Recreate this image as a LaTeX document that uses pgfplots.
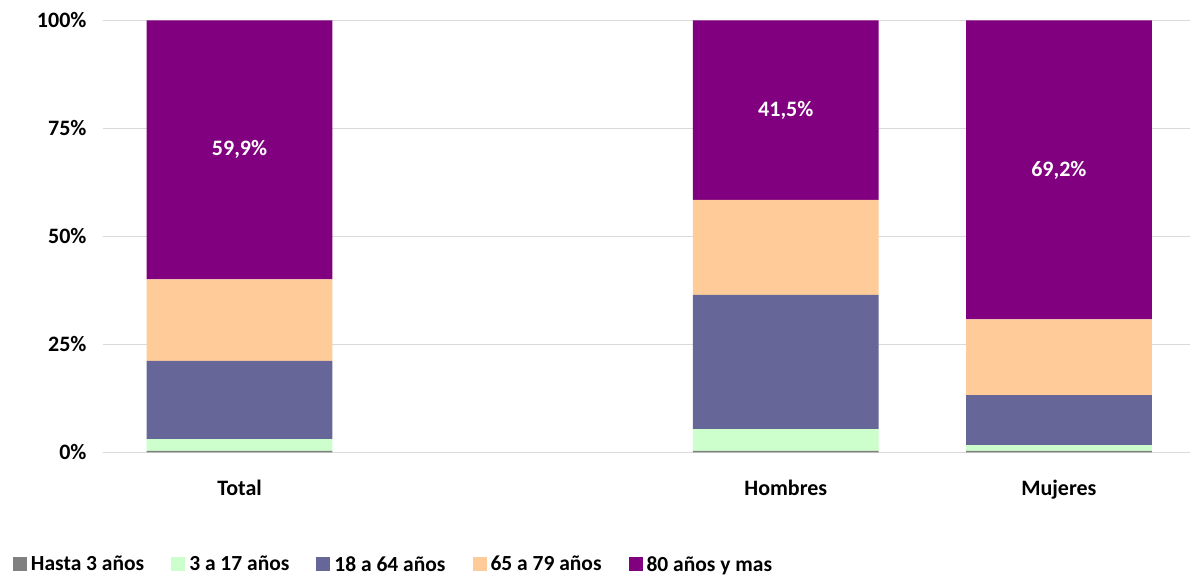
\documentclass[border=0pt]{standalone}
\usepackage{pgfplots}
\pgfplotsset{compat=1.18}
\usepackage{fontspec}
\setmainfont{Carlito}
\definecolor{cgrey}{HTML}{808080}
\definecolor{cgreen}{HTML}{CCFFCC}
\definecolor{cblue}{HTML}{666699}
\definecolor{corange}{HTML}{FFCC99}
\definecolor{cpurple}{HTML}{800080}
\definecolor{cgrid}{HTML}{D9D9D9}
\begin{document}
\begin{tikzpicture}
\useasboundingbox (-103pt,-124.5pt) rectangle (1087pt,452.5pt);
\begin{axis}[
  at={(0pt,0pt)}, anchor=south west,
  scale only axis, width=1087pt, height=432pt,
  ybar stacked, bar width=0.68,
  xmin=-0.5, xmax=3.48, ymin=0, ymax=100,
  xtick={0,2,3}, xticklabels={Total,Hombres,Mujeres},
  ytick={0,25,50,75,100}, yticklabels={0\%,25\%,50\%,75\%,100\%},
  major tick length=0pt,
  axis line style={draw=none},
  ymajorgrids, grid style={color=cgrid, line width=1pt},
  tick label style={font=\bfseries\fontsize{22}{26}\selectfont},
  yticklabel style={xshift=-13pt},
  xticklabel style={yshift=-24pt},
  legend style={at={(-0.083,-0.259)}, anchor=west, draw=none, fill=none,
    legend columns=5, font=\bfseries\fontsize{21.5}{25}\selectfont,
    /tikz/every even column/.append style={column sep=25pt},
    inner sep=0pt, legend cell align=left},
]
\addplot[fill=cgrey, draw=none, legend image code/.code={\fill[cgrey] (0pt,-7pt) rectangle (14pt,7pt); \path (16pt,0pt);}] coordinates {(0,0.4) (2,0.4) (3,0.4)};
\addplot[fill=cgreen, draw=none, legend image code/.code={\fill[cgreen] (0pt,-7pt) rectangle (14pt,7pt); \path (16pt,0pt);}] coordinates {(0,2.7) (2,5.0) (3,1.3)};
\addplot[fill=cblue, draw=none, legend image code/.code={\fill[cblue] (0pt,-7pt) rectangle (14pt,7pt); \path (16pt,0pt);}] coordinates {(0,18.1) (2,31.1) (3,11.6)};
\addplot[fill=corange, draw=none, legend image code/.code={\fill[corange] (0pt,-7pt) rectangle (14pt,7pt); \path (16pt,0pt);}] coordinates {(0,18.9) (2,22.0) (3,17.5)};
\addplot[fill=cpurple, draw=none, legend image code/.code={\fill[cpurple] (0pt,-7pt) rectangle (14pt,7pt); \path (16pt,0pt);}] coordinates {(0,59.9) (2,41.5) (3,69.2)};
\legend{Hasta 3 años, 3 a 17 años, 18 a 64 años, 65 a 79 años, 80 años y mas}
\coordinate (l1) at (axis cs:0,70.05);
\coordinate (l2) at (axis cs:2,79.25);
\coordinate (l3) at (axis cs:3,65.4);
\end{axis}
\node[text=white, font=\bfseries\fontsize{22}{26}\selectfont] at (l1) {59,9\%};
\node[text=white, font=\bfseries\fontsize{22}{26}\selectfont] at (l2) {41,5\%};
\node[text=white, font=\bfseries\fontsize{22}{26}\selectfont] at (l3) {69,2\%};
\end{tikzpicture}
\end{document}
